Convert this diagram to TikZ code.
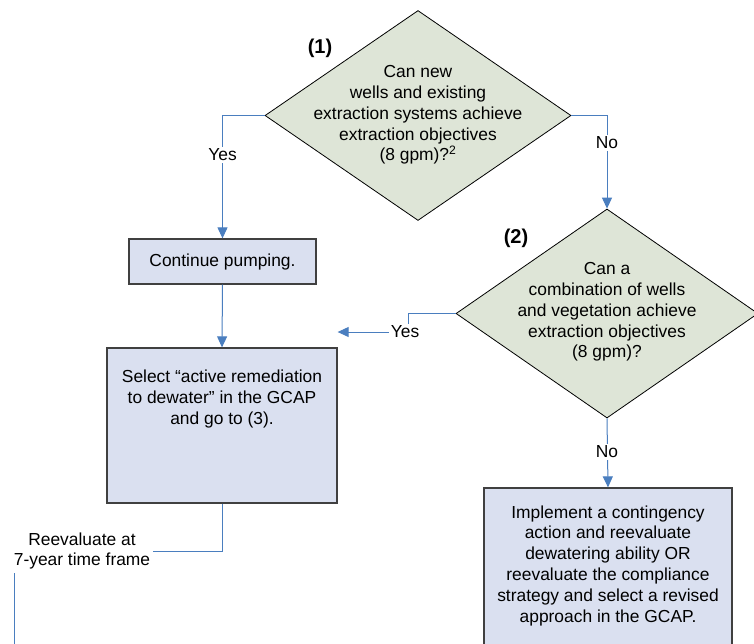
\documentclass[tikz,border=0pt]{standalone}
\usepackage{fontspec}
\setmainfont{Liberation Sans}
\usetikzlibrary{shapes.geometric,arrows.meta}
\definecolor{dfill}{RGB}{222,229,215}
\definecolor{bfill}{RGB}{218,224,240}
\definecolor{lnblue}{RGB}{74,126,191}
\definecolor{bdr}{RGB}{64,64,64}
\begin{document}
\begin{tikzpicture}[x=1pt,y=-1pt,
 txt/.style={font=\fontsize{17.4}{20.8}\selectfont, align=center, inner sep=0pt},
 dia/.style={diamond, draw=black, line width=0.8pt, fill=dfill, inner sep=0pt},
 box/.style={draw=bdr, line width=1.3pt, fill=bfill, inner sep=0pt, txt},
 conn/.style={draw=lnblue, line width=1pt},
 arr/.style={conn, -{Triangle[width=10pt,length=11pt]}},
 lbl/.style={txt, fill=white, inner sep=2pt},
 num/.style={font=\fontsize{20}{24}\selectfont\bfseries, inner sep=0pt}]
\useasboundingbox (0,0) rectangle (754,643);
\clip (0,0) rectangle (754,643);
\fill[white] (0,0) rectangle (754,643);

% shapes
\node[dia, minimum width=306pt, minimum height=210pt] (d1) at (418,115.5) {};
\node[txt] (d1t) at (418,115) {Can new\\wells and existing\\extraction systems achieve\\extraction objectives\\(8 gpm)?\textsuperscript{2}};
\node[dia, minimum width=302pt, minimum height=209pt] (d2) at (607,313.5) {};
\node[txt] (d2t) at (607,312) {Can a\\combination of wells\\and vegetation achieve\\extraction objectives\\(8 gpm)?};
\node[box, minimum width=187pt, minimum height=45pt] (cont) at (222.5,261.5) {Continue pumping.};
\node[box, minimum width=230pt, minimum height=155pt] (sel) at (222,425.5) {};
\node[txt] (selt) at (222,399) {Select “active remediation\\to dewater” in the GCAP\\and go to (3).};
\node[box, minimum width=248pt, minimum height=170pt] (impl) at (608,573) {};
\node[txt] (implt) at (608,565.5) {Implement a contingency\\action and reevaluate\\dewatering ability OR\\reevaluate the compliance\\strategy and select a revised\\approach in the GCAP.};

% connectors
\draw[arr] (d1.west) -| (cont.north);
\draw[arr] (d1.east) -| (d2.north);
\draw[arr] (cont.south) -- (sel.north);
\coordinate (y2) at (408,332);
\draw[arr] (d2.west) -| (y2) -- (sel.east |- y2);
\draw[arr] (d2.south) -- (impl.north);
\coordinate (r1) at (14,551);
\coordinate (r2) at (14,680);
\draw[conn] (sel.south) |- (r1) -- (r2);

% labels
\node[lbl] (yes1) at (222.5,155) {Yes};
\node[lbl] (no1) at (607,143) {No};
\node[lbl] (yes2) at (405,332) {Yes};
\node[lbl] (no2) at (607,452) {No};
\node[lbl, inner sep=3pt] (reev) at (82,551) {Reevaluate at\\7-year time frame};
\node[num] (n1) at (320,48) {(1)};
\node[num] (n2) at (516,238) {(2)};
\end{tikzpicture}
\end{document}
